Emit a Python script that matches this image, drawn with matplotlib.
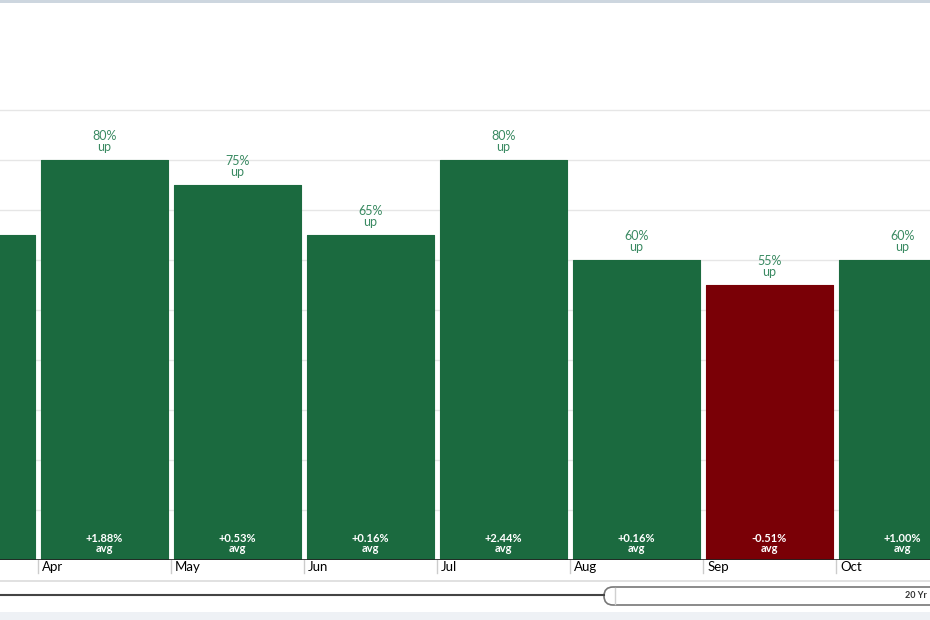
import matplotlib
matplotlib.use("Agg")
import matplotlib.pyplot as plt
from matplotlib.patches import Rectangle, FancyBboxPatch
from matplotlib.transforms import blended_transform_factory

plt.rcParams['font.family'] = ['Lato', 'DejaVu Sans']

# ------------------------------------------------------------------
# data (Jan = 0 ... Dec = 11)
# ------------------------------------------------------------------
month_idx = [2, 3, 4, 5, 6, 7, 8, 9]
months = ['Mar', 'Apr', 'May', 'Jun', 'Jul', 'Aug', 'Sep', 'Oct']
pct_up = [65, 80, 75, 65, 80, 60, 55, 60]
avg_ret = [None, 1.88, 0.53, 0.16, 2.44, 0.16, -0.51, 1.00]

GREEN = '#1b6a3f'
RED = '#7a0006'
LABEL_GREEN = '#3a8a62'
GRID = '#e6e6e6'

W, H = 930, 620
fig = plt.figure(figsize=(W / 100, H / 100), dpi=100)
fig.patch.set_facecolor('white')

# main plot area: baseline 560 px from the top, 5 px per percent
ax = fig.add_axes([0, 60 / H, 1, 557 / H])
x0 = 3 - 104.5 / 133
ax.set_xlim(x0, x0 + W / 133)
ax.set_ylim(0, 557 / 5)
for s in ax.spines.values():
    s.set_visible(False)
ax.set_xticks([])
ax.set_yticks([])

for g in range(10, 100, 10):
    ax.axhline(g, color=GRID, lw=1, zorder=0)
ax.axhline(0, color='#222222', lw=1.2, zorder=4)

colors = [RED if (a is not None and a < 0) else GREEN for a in avg_ret]
ax.bar(month_idx, pct_up, width=0.96, color=colors, edgecolor=colors,
       linewidth=0.8, joinstyle='round', zorder=2)

for x, p, a in zip(month_idx, pct_up, avg_ret):
    ax.annotate(f"{p}%\nup", (x, p), xytext=(0, 5), textcoords='offset points',
                ha='center', va='bottom', fontsize=9, color=LABEL_GREEN,
                linespacing=0.95, zorder=5)
    if a is not None:
        ax.annotate(f"{a:+.2f}%\navg", (x, 0), xytext=(0, 4),
                    textcoords='offset points', ha='center', va='bottom',
                    fontsize=8, color='white', fontweight='bold',
                    linespacing=0.95, zorder=5)

# category ticks and month labels under the axis
trans = blended_transform_factory(ax.transData, fig.transFigure)
for x, m in zip(month_idx, months):
    ax.plot([x - 0.5, x - 0.5], [(H - 560) / H, (H - 573) / H], color='#cccccc',
            lw=1, transform=trans, clip_on=False, zorder=3)
    if x - 0.5 > x0:  # labels left of the visible window are not shown
        ax.annotate(m, (x - 0.5, (H - 567) / H), xycoords=trans, xytext=(3, 0),
                    textcoords='offset points', ha='left', va='center',
                    fontsize=9.5, color='#000000', annotation_clip=False)

# navigator / scrollbar strip at the bottom
nav = fig.add_axes([0, 0, 1, 60 / H])
nav.set_xlim(0, W)
nav.set_ylim(620, 560)
nav.axis('off')
nav.axhline(581, color='#dcdcdc', lw=1.2)
nav.plot([0, 604], [595, 595], color='#444444', lw=1.5)
nav.add_patch(FancyBboxPatch((604, 587), 340, 18,
                             boxstyle='round,pad=0,rounding_size=9',
                             facecolor='white', edgecolor='#777777', lw=1.2))
nav.plot([615, 615], [588, 604], color='#d0d0d0', lw=1)
nav.text(927, 595.5, '20 Yr', ha='right', va='center', fontsize=6.5,
         color='#333333', fontweight='bold')
nav.add_patch(Rectangle((0, 612), W, 10, facecolor='#eef1f5', edgecolor='none'))

# thin header strip at the very top
fig.patches.append(Rectangle((0, 1 - 3 / H), 1, 3 / H, transform=fig.transFigure,
                             facecolor='#cdd6df', edgecolor='none'))

fig.savefig('out.png', dpi=100)
